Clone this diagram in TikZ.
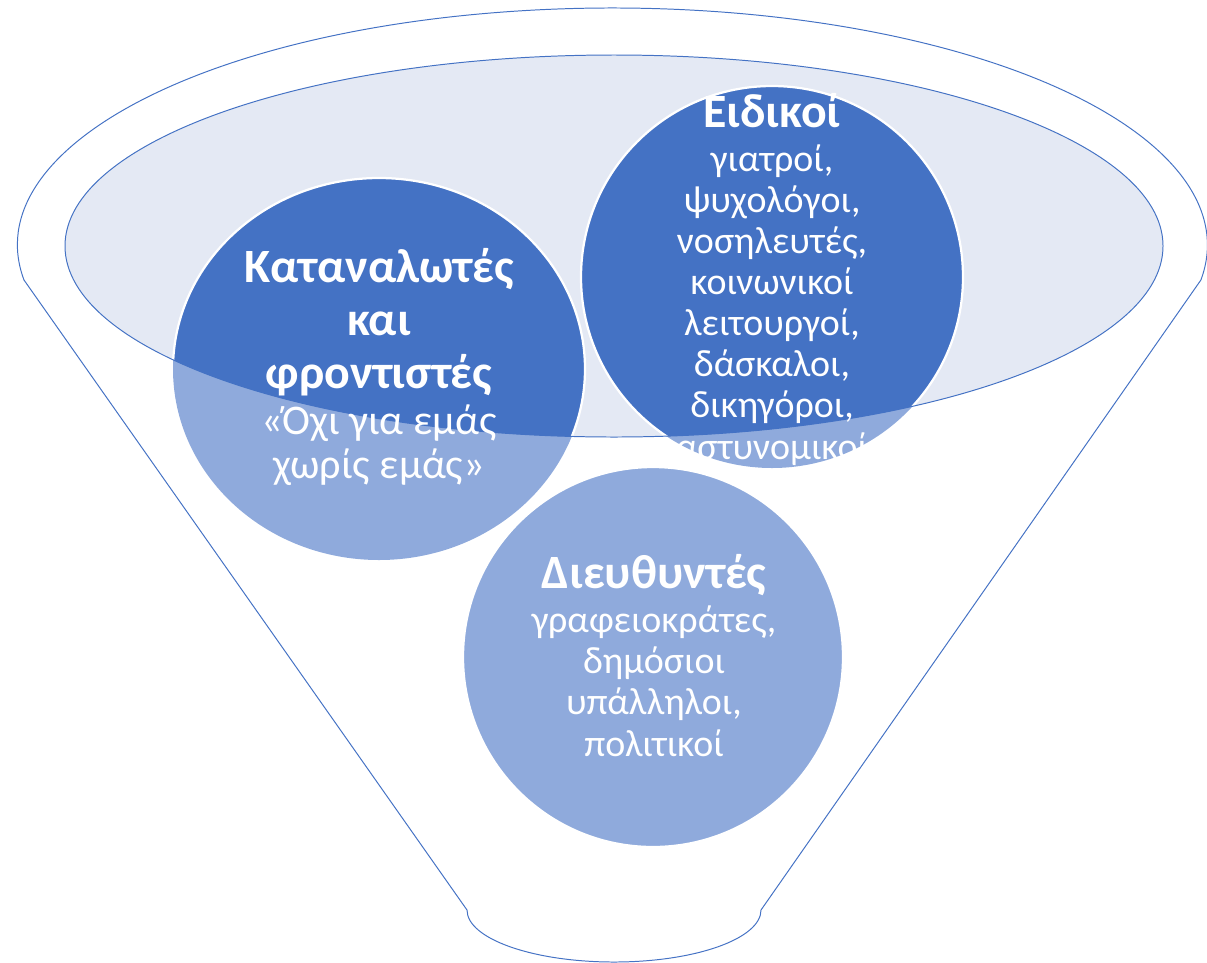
\documentclass[tikz,border=0pt]{standalone}
\usepackage{fontspec}
\setmainfont{Carlito}
\usepackage{tikz}
\definecolor{darkblue}{RGB}{68,114,196}
\definecolor{lightblue}{RGB}{143,170,220}
\definecolor{paleblue}{RGB}{228,233,244}

\begin{document}
\begin{tikzpicture}[x=0.025cm,y=0.025cm,
    heading/.style={font=\fontsize{34}{37.5}\selectfont\bfseries,text=white,
      align=center,anchor=base,inner sep=0pt},
    body/.style={font=\fontsize{27}{29.2}\selectfont,text=white,
      align=center,anchor=base,inner sep=0pt},
    rim/.style={draw=darkblue,line width=0.7pt},
    bubble/.style={draw=white,line width=1.6pt}]
  \useasboundingbox (0,0) rectangle (1207,-962);

  % top of the funnel
  \fill[paleblue] (614,-246) ellipse[x radius=549,y radius=191];

  % bubbles, light below the rim
  \fill[lightblue] (379,-369) ellipse[x radius=206,y radius=191];
  \fill[lightblue] (772,-277) circle[radius=191];
  \filldraw[lightblue,bubble] (653,-657) circle[radius=190];

  % bubbles, dark inside the rim
  \begin{scope}
    \clip (614,-246) ellipse[x radius=549,y radius=191];
    \filldraw[darkblue,bubble] (379,-369) ellipse[x radius=206,y radius=191];
    \filldraw[darkblue,bubble] (772,-277) circle[radius=191];
  \end{scope}

  \draw[rim] (614,-246) ellipse[x radius=549,y radius=191];

  % funnel outline
  \draw[rim] (24,-280)
    arc[start angle=188.5,end angle=-8.5,x radius=595,y radius=237]
    -- (761,-910)
    arc[start angle=0,end angle=-180,x radius=147,y radius=52]
    -- cycle;

  % anchor=base sits on the last line
  \node[heading] (katHead) at (379,-388) {Καταναλωτές\\και\\φροντιστές};
  \node[body,font=\fontsize{30}{31}\selectfont] (katBody) at (379,-478)
    {«Όχι για εμάς\\χωρίς εμάς»};

  \node[heading] (eidHead) at (772,-127) {Ειδικοί};
  \node[body] (eidBody) at (772,-459)
    {γιατροί,\\ψυχολόγοι,\\νοσηλευτές,\\κοινωνικοί\\λειτουργοί,\\δάσκαλοι,\\δικηγόροι,\\αστυνομικοί};

  \node[heading] (dieuHead) at (654,-588) {Διευθυντές};
  \node[body] (dieuBody) at (654,-756)
    {γραφειοκράτες,\\δημόσιοι\\υπάλληλοι,\\πολιτικοί};
\end{tikzpicture}
\end{document}
